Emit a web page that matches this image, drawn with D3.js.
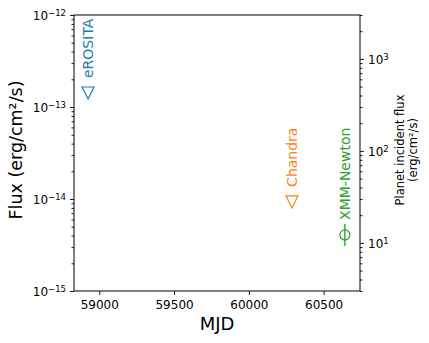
<!DOCTYPE html>
<html><head><meta charset="utf-8">
<script src="https://cdn.jsdelivr.net/npm/d3@7"></script>
<style>body{margin:0;background:#fff} text{font-family:"DejaVu Sans",sans-serif}</style>
</head><body><svg id="c" width="429" height="343"></svg>
<script>
// ---- data ----
const instruments = ["eROSITA", "Chandra", "XMM-Newton"];
const mjd = [58925, 60288, 60642];
const flux = [1.42e-13, 9.3e-15, 4.07e-15];
const fluxErrLow = [0, 0, 0.96e-15];
const fluxErrHigh = [0, 0, 1.28e-15];
const upperLimit = [true, true, false];
const colors = ["#1f77b4", "#ff7f0e", "#2ca02c"];
const xDomain = [58831, 60743];
const xTicks = [59000, 59500, 60000, 60500];
const yDomain = [1e-15, 1e-12];
const yMajor = [1e-15, 1e-14, 1e-13, 1e-12];
const y2Domain = [3, 3000];
const y2Major = [10, 100, 1000];

const svg = d3.select("#c");
const M = {l: 74, r: 360, t: 15, b: 291};
const x = d3.scaleLinear().domain(xDomain).range([M.l, M.r]);
const y = d3.scaleLog().domain(yDomain).range([M.b, M.t]);
const y2 = d3.scaleLog().domain(y2Domain).range([M.b, M.t]);

function minorTicks(dom) {
  const out = [];
  const lo = Math.floor(Math.log10(dom[0])), hi = Math.ceil(Math.log10(dom[1]));
  for (let e = lo; e <= hi; e++) for (let m = 2; m <= 9; m++) {
    const v = m * Math.pow(10, e);
    if (v >= dom[0] * 0.999 && v <= dom[1] * 1.001) out.push(v);
  }
  return out;
}
function sup(sel, fmtExp) {
  sel.selectAll(".tick text").each(function(d) {
    const t = d3.select(this); t.text(null);
    t.append("tspan").text("10");
    t.append("tspan").attr("dy", "-0.55em").attr("font-size", "8.5px").text(fmtExp(d));
  });
}
function style(g) {
  g.select(".domain").remove();
  g.selectAll(".tick line").attr("stroke", "#000").attr("stroke-width", 0.9);
  g.selectAll(".tick text").attr("fill", "#000").attr("font-size", "12px");
}

// x axis
const gx = svg.append("g").attr("transform", `translate(0,${M.b})`)
  .call(d3.axisBottom(x).tickValues(xTicks).tickSize(4).tickPadding(5).tickFormat(d3.format("d")));
style(gx);

// left axis
const gyMin = svg.append("g").attr("transform", `translate(${M.l},0)`)
  .call(d3.axisLeft(y).tickValues(minorTicks(yDomain)).tickSize(2.5).tickFormat(""));
style(gyMin);
const gy = svg.append("g").attr("transform", `translate(${M.l},0)`)
  .call(d3.axisLeft(y).tickValues(yMajor).tickSize(4).tickPadding(4));
style(gy);
sup(gy, d => "\u2212" + Math.abs(Math.round(Math.log10(d))));
gy.selectAll(".tick text").attr("dy", "0.4em");

// right axis
const gy2Min = svg.append("g").attr("transform", `translate(${M.r},0)`)
  .call(d3.axisRight(y2).tickValues(minorTicks(y2Domain)).tickSize(2.5).tickFormat(""));
style(gy2Min);
const gy2 = svg.append("g").attr("transform", `translate(${M.r},0)`)
  .call(d3.axisRight(y2).tickValues(y2Major).tickSize(4).tickPadding(4));
style(gy2);
sup(gy2, d => String(Math.round(Math.log10(d))));
gy2.selectAll(".tick text").attr("dy", "0.4em");

// frame
svg.append("rect").attr("x", M.l).attr("y", M.t).attr("width", M.r - M.l).attr("height", M.b - M.t)
  .attr("fill", "none").attr("stroke", "#000").attr("stroke-width", 1);

// data
const data = instruments.map((n, i) => ({n, x: mjd[i], f: flux[i], lo: fluxErrLow[i], hi: fluxErrHigh[i], ul: upperLimit[i], c: colors[i]}));
const tri = 6;
data.forEach(d => {
  const px = x(d.x), py = y(d.f);
  if (d.ul) {
    svg.append("path")
      .attr("d", `M${px - tri},${py - tri}L${px + tri},${py - tri}L${px},${py + tri}Z`)
      .attr("fill", "none").attr("stroke", d.c).attr("stroke-width", 1.2);
  } else {
    svg.append("line").attr("x1", px).attr("x2", px)
      .attr("y1", y(d.f - d.lo)).attr("y2", y(d.f + d.hi))
      .attr("stroke", d.c).attr("stroke-width", 1.4);
    svg.append("circle").attr("cx", px).attr("cy", py).attr("r", 5)
      .attr("fill", "none").attr("stroke", d.c).attr("stroke-width", 1.2);
  }
  svg.append("text")
    .attr("transform", `translate(${px},${py - 15}) rotate(-90)`)
    .attr("dominant-baseline", "central").attr("text-anchor", "start")
    .attr("font-size", "14px").attr("fill", d.c).text(d.n);
});

// axis labels
svg.append("text").attr("x", (M.l + M.r) / 2).attr("y", 330).attr("text-anchor", "middle")
  .attr("font-size", "18px").text("MJD");
svg.append("text").attr("transform", `translate(22,150) rotate(-90)`).attr("text-anchor", "middle")
  .attr("font-size", "17.5px").text("Flux (erg/cm\u00b2/s)");
const rl = svg.append("text").attr("transform", `translate(404,150) rotate(-90)`)
  .attr("text-anchor", "middle").attr("font-size", "11.5px");
rl.append("tspan").attr("x", 0).attr("dy", 0).text("Planet incident flux");
rl.append("tspan").attr("x", 0).attr("dy", "1.15em").text("(erg/cm\u00b2/s)");
</script></body></html>
